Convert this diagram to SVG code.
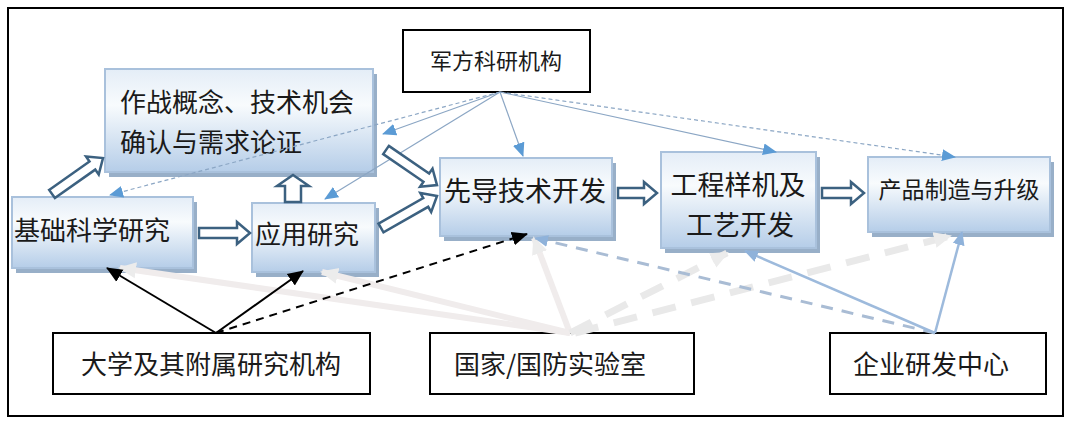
<svg xmlns="http://www.w3.org/2000/svg" width="1080" height="431" viewBox="0 0 1080 431">
<defs>
<linearGradient id="bf" x1="0" y1="0" x2="0" y2="1">
<stop offset="0" stop-color="#e4edf7"/>
<stop offset="0.35" stop-color="#f8fbfd"/>
<stop offset="1" stop-color="#b5cde8"/>
</linearGradient>
<marker id="mBlue" markerUnits="userSpaceOnUse" markerWidth="14" markerHeight="14" viewBox="0 0 14 14" refX="13" refY="7" orient="auto">
<path d="M0,1 L14,7 L0,13 Z" fill="#5b9bd5"/>
</marker>
<marker id="mBlack" markerUnits="userSpaceOnUse" markerWidth="16" markerHeight="16" viewBox="0 0 16 16" refX="15" refY="8" orient="auto">
<path d="M0,1 L16,8 L0,15 Z" fill="#000"/>
</marker>
<marker id="mLight" markerUnits="userSpaceOnUse" markerWidth="18" markerHeight="18" viewBox="0 0 18 18" refX="16" refY="9" orient="auto">
<path d="M0,1 L18,9 L0,17 Z" fill="#ececec"/>
</marker>
<marker id="mLB" markerUnits="userSpaceOnUse" markerWidth="14" markerHeight="14" viewBox="0 0 14 14" refX="13" refY="7" orient="auto">
<path d="M0,1 L14,7 L0,13 Z" fill="#8fb2da"/>
</marker>
</defs>
<style>
text{font-family:"Noto Sans CJK SC","Noto Sans CJK JP",sans-serif;fill:#1a1a1a}
.box{fill:url(#bf);stroke:#a9c1dc;stroke-width:2}
.sh{fill:#98afc8}
.wb{fill:#fff;stroke:#000;stroke-width:2}
.blk{fill:#fff;stroke:#3c6180;stroke-width:2.5;stroke-linejoin:miter}
.thin{fill:none;stroke:#8ba6c4;stroke-width:1.2;marker-end:url(#mBlue)}
.thind{fill:none;stroke:#8ba6c4;stroke-width:1.2;stroke-dasharray:4 3;marker-end:url(#mBlue)}
.bl{fill:none;stroke:#000;stroke-width:2;marker-end:url(#mBlack)}
.bld{fill:none;stroke:#000;stroke-width:2;stroke-dasharray:8 6;marker-end:url(#mBlack)}
.lt{fill:none;stroke:#f0ecec;stroke-width:6;marker-end:url(#mLight)}
.ltd{fill:none;stroke:#e9e9e9;stroke-width:7;stroke-dasharray:24 16;marker-end:url(#mLight)}
.lb{fill:none;stroke:#9dbadc;stroke-width:2.5;marker-end:url(#mLB)}
.lbd{fill:none;stroke:#a9bcd4;stroke-width:3;stroke-dasharray:12 9;marker-end:url(#mLB)}
</style>
<rect x="0" y="0" width="1080" height="431" fill="#fff"/>
<rect x="8" y="8" width="1055" height="408" fill="none" stroke="#000" stroke-width="2"/>

<g id="n-junfang">
<rect class="wb" x="403" y="30" width="187" height="62"/>
<text x="496" y="69" font-size="22" text-anchor="middle">军方科研机构</text>
</g>
<g id="n-zuozhan">
<rect class="sh" x="109" y="74" width="268" height="103"/>
<rect class="box" x="105" y="69" width="268" height="103"/>
<text x="120" y="112" font-size="26">作战概念、技术机会</text>
<text x="120" y="152" font-size="26">确认与需求论证</text>
</g>
<g id="n-jichu">
<rect class="sh" x="16" y="202" width="181" height="71"/>
<rect class="box" x="12" y="197" width="181" height="71"/>
<text x="14" y="240" font-size="26">基础科学研究</text>
</g>
<g id="n-yingyong">
<rect class="sh" x="256" y="208" width="123" height="69"/>
<rect class="box" x="252" y="203" width="123" height="69"/>
<text x="255" y="244" font-size="26">应用研究</text>
</g>
<g id="n-xiandao">
<rect class="sh" x="444" y="163" width="172" height="78"/>
<rect class="box" x="440" y="158" width="172" height="78"/>
<text x="444" y="201" font-size="27">先导技术开发</text>
</g>
<g id="n-gongcheng">
<rect class="sh" x="665" y="157" width="155" height="96"/>
<rect class="box" x="661" y="152" width="155" height="96"/>
<text x="738" y="195" font-size="27" text-anchor="middle">工程样机及</text>
<text x="740" y="235" font-size="27" text-anchor="middle">工艺开发</text>
</g>
<g id="n-chanpin">
<rect class="sh" x="872" y="162" width="182" height="75"/>
<rect class="box" x="868" y="157" width="182" height="75"/>
<text x="959" y="198" font-size="23" text-anchor="middle">产品制造与升级</text>
</g>
<g id="n-daxue">
<rect class="wb" x="53" y="333" width="317" height="61"/>
<text x="211" y="374" font-size="26" text-anchor="middle">大学及其附属研究机构</text>
</g>
<g id="n-guojia">
<rect class="wb" x="430" y="333" width="264" height="61"/>
<text x="550" y="374" font-size="26" text-anchor="middle">国家/国防实验室</text>
</g>
<g id="n-qiye">
<rect class="wb" x="830" y="333" width="216" height="61"/>
<text x="931" y="374" font-size="26" text-anchor="middle">企业研发中心</text>
</g>

<g id="connectors">
<!-- light thick arrows from 国家/国防实验室 -->
<path class="lt" d="M570,333 L120,268"/>
<path class="lt" d="M570,333 L322,272"/>
<path class="lt" d="M570,333 L534,238"/>
<path class="ltd" d="M570,333 L727,253"/>
<path class="ltd" d="M575,333 L950,236"/>
<!-- light blue from 企业研发中心 -->
<path class="lbd" d="M935,333 L535,238"/>
<path class="lb" d="M935,333 L745,251"/>
<path class="lb" d="M935,333 L962,232"/>
<!-- black from 大学 -->
<path class="bl" d="M216,333 L107,268"/>
<path class="bl" d="M216,333 L303,271"/>
<path class="bld" d="M216,333 L527,234"/>
<!-- thin blue from 军方 -->
<path class="thind" d="M500,92 L110,195"/>
<path class="thin" d="M500,92 L383,134"/>
<path class="thin" d="M500,92 L325,199"/>
<path class="thin" d="M500,92 L523,156"/>
<path class="thin" d="M500,92 L776,152"/>
<path class="thind" d="M500,92 L955,157"/>
<!-- hollow block arrows -->
<path class="blk" transform="translate(52,194) rotate(-35.2)" d="M0,-5 H49.4 V-11 L62.4,0 L49.4,11 V5 H0 Z"/>
<path class="blk" transform="translate(199,233)" d="M0,-5 H38 V-11 L51,0 L38,11 V5 H0 Z"/>
<path class="blk" transform="translate(293,202) rotate(-90)" d="M0,-8 H16 V-16 L27,0 L16,16 V8 H0 Z"/>
<path class="blk" transform="translate(386,150) rotate(34.5)" d="M0,-5 H48.9 V-11 L61.9,0 L48.9,11 V5 H0 Z"/>
<path class="blk" transform="translate(381,228) rotate(-29.7)" d="M0,-5 H51.5 V-11 L64.5,0 L51.5,11 V5 H0 Z"/>
<path class="blk" transform="translate(618,193)" d="M0,-5 H26 V-11 L39,0 L26,11 V5 H0 Z"/>
<path class="blk" transform="translate(822,193)" d="M0,-5 H29 V-11 L42,0 L29,11 V5 H0 Z"/>
</g>
</svg>
